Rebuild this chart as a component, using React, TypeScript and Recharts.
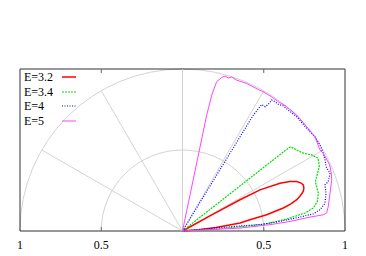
import { Line, LineChart, ReferenceArea, ReferenceLine, XAxis, YAxis } from "recharts";

// polar curves, given as (x, y) on the unit half-disc
const e32 = [
  { x: 0, y: 0 }, { x: 0.18, y: 0.1 }, { x: 0.354, y: 0.193 }, { x: 0.477, y: 0.254 },
  { x: 0.6, y: 0.295 }, { x: 0.66, y: 0.306 }, { x: 0.703, y: 0.305 }, { x: 0.73, y: 0.296 },
  { x: 0.743, y: 0.285 }, { x: 0.747, y: 0.265 }, { x: 0.743, y: 0.244 }, { x: 0.725, y: 0.218 },
  { x: 0.703, y: 0.193 }, { x: 0.665, y: 0.166 }, { x: 0.62, y: 0.142 }, { x: 0.518, y: 0.1 },
  { x: 0.415, y: 0.069 }, { x: 0.354, y: 0.049 }, { x: 0.206, y: 0.022 }, { x: 0.1, y: 0.008 },
  { x: 0, y: 0 },
];

const e34 = [
  { x: 0, y: 0 }, { x: 0.64, y: 0.503 }, { x: 0.665, y: 0.52 }, { x: 0.703, y: 0.5 },
  { x: 0.734, y: 0.484 }, { x: 0.762, y: 0.476 }, { x: 0.795, y: 0.47 }, { x: 0.834, y: 0.449 },
  { x: 0.842, y: 0.398 }, { x: 0.826, y: 0.336 }, { x: 0.818, y: 0.303 }, { x: 0.822, y: 0.285 },
  { x: 0.836, y: 0.234 }, { x: 0.83, y: 0.182 }, { x: 0.805, y: 0.142 }, { x: 0.754, y: 0.111 },
  { x: 0.641, y: 0.074 }, { x: 0.518, y: 0.045 }, { x: 0.41, y: 0.032 }, { x: 0.2, y: 0.01 },
  { x: 0, y: 0 },
];

const e4 = [
  { x: 0, y: 0 }, { x: 0.436, y: 0.716 }, { x: 0.487, y: 0.78 }, { x: 0.508, y: 0.767 },
  { x: 0.528, y: 0.782 }, { x: 0.549, y: 0.808 }, { x: 0.569, y: 0.798 }, { x: 0.59, y: 0.782 },
  { x: 0.62, y: 0.773 }, { x: 0.651, y: 0.746 }, { x: 0.703, y: 0.705 }, { x: 0.764, y: 0.634 },
  { x: 0.815, y: 0.582 }, { x: 0.846, y: 0.531 }, { x: 0.866, y: 0.48 }, { x: 0.877, y: 0.439 },
  { x: 0.883, y: 0.398 }, { x: 0.908, y: 0.357 }, { x: 0.897, y: 0.305 }, { x: 0.877, y: 0.285 },
  { x: 0.883, y: 0.234 }, { x: 0.877, y: 0.172 }, { x: 0.846, y: 0.131 }, { x: 0.805, y: 0.106 },
  { x: 0.723, y: 0.086 }, { x: 0.6, y: 0.059 }, { x: 0.477, y: 0.039 }, { x: 0.311, y: 0.028 },
  { x: 0, y: 0 },
];

const e5 = [
  { x: 0, y: 0 }, { x: 0.149, y: 0.716 }, { x: 0.18, y: 0.839 }, { x: 0.21, y: 0.921 },
  { x: 0.241, y: 0.948 }, { x: 0.262, y: 0.956 }, { x: 0.282, y: 0.945 }, { x: 0.303, y: 0.95 },
  { x: 0.334, y: 0.931 }, { x: 0.395, y: 0.911 }, { x: 0.415, y: 0.9 }, { x: 0.446, y: 0.884 },
  { x: 0.497, y: 0.859 }, { x: 0.549, y: 0.828 }, { x: 0.59, y: 0.798 }, { x: 0.641, y: 0.767 },
  { x: 0.703, y: 0.716 }, { x: 0.764, y: 0.644 }, { x: 0.815, y: 0.582 }, { x: 0.846, y: 0.5 },
  { x: 0.866, y: 0.48 }, { x: 0.905, y: 0.41 }, { x: 0.915, y: 0.36 }, { x: 0.918, y: 0.316 },
  { x: 0.908, y: 0.234 }, { x: 0.897, y: 0.151 }, { x: 0.887, y: 0.111 }, { x: 0.866, y: 0.1 },
  { x: 0.785, y: 0.086 }, { x: 0.662, y: 0.059 }, { x: 0.538, y: 0.039 }, { x: 0.354, y: 0.018 },
  { x: 0, y: 0 },
];

const xTicks = [-1, -0.5, 0.5, 1];
const gridRadii = [0.5, 1];
const gridAngles = [30, 60, 90, 120, 150];

const series = [
  { name: "E=3.2", data: e32, color: "#ff0000", dash: undefined, width: 1.5 },
  { name: "E=3.4", data: e34, color: "#00e000", dash: "2 1", width: 1.2 },
  { name: "E=4", data: e4, color: "#0000ff", dash: "1 1.5", width: 1.2 },
  { name: "E=5", data: e5, color: "#ff44ff", dash: undefined, width: 1 },
];

const gridColor = "#c8c8c8";
const serif = "'Liberation Serif', 'DejaVu Serif', serif";

// half circle drawn inside the reference area box
function HalfCircle(props: any) {
  const { x, y, width, height } = props;
  const r = width / 2;
  return (
    <path
      d={`M${x},${y + height} A${r},${height} 0 0 1 ${x + width},${y + height}`}
      fill="none"
      stroke={gridColor}
      strokeWidth={0.8}
    />
  );
}

function LegendBox() {
  return (
    <div
      style={{
        position: "absolute",
        left: 24,
        top: 70,
        fontFamily: serif,
        fontSize: 12,
        lineHeight: "14.6px",
        color: "#000",
      }}
    >
      {series.map((s) => (
        <div key={s.name} style={{ display: "flex", alignItems: "center" }}>
          <span style={{ width: 37 }}>{s.name}</span>
          <svg width={16} height={6}>
            <line
              x1={1}
              y1={3}
              x2={15}
              y2={3}
              stroke={s.color}
              strokeWidth={s.width}
              strokeDasharray={s.dash}
            />
          </svg>
        </div>
      ))}
    </div>
  );
}

export default function App() {
  return (
    <div style={{ position: "fixed", left: 0, top: 0, width: 366, height: 256, background: "#fff" }}>
      <LineChart width={366} height={256} margin={{ top: 69, right: 21, bottom: 5, left: 20 }}>
        <XAxis
          type="number"
          dataKey="x"
          domain={[-1, 1]}
          ticks={xTicks}
          tickFormatter={(v: number) => String(Math.abs(v))}
          axisLine={false}
          tickLine={false}
          tickMargin={3}
          height={20}
          tick={{ fontSize: 12, fill: "#000", fontFamily: serif }}
        />
        <YAxis type="number" dataKey="y" domain={[0, 1]} hide />
        {gridRadii.map((r) => (
          <ReferenceArea
            key={r}
            x1={-r}
            x2={r}
            y1={0}
            y2={r}
            ifOverflow="visible"
            shape={<HalfCircle />}
          />
        ))}
        {gridAngles.map((a) => (
          <ReferenceLine
            key={a}
            segment={[
              { x: 0, y: 0 },
              { x: Math.cos((a * Math.PI) / 180), y: Math.sin((a * Math.PI) / 180) },
            ]}
            stroke={gridColor}
            strokeWidth={0.8}
            ifOverflow="visible"
          />
        ))}
        {[-0.5, 0.5].map((t) => (
          <ReferenceLine key={"b" + t} segment={[{ x: t, y: 0 }, { x: t, y: 0.025 }]} stroke="#666" />
        ))}
        {[-0.5, 0.5].map((t) => (
          <ReferenceLine key={"t" + t} segment={[{ x: t, y: 1 }, { x: t, y: 0.975 }]} stroke="#666" />
        ))}
        <ReferenceArea x1={-1} x2={1} y1={0} y2={1} fill="none" stroke="#333" strokeWidth={1} ifOverflow="visible" />
        {series.map((s) => (
          <Line
            key={s.name}
            name={s.name}
            data={s.data}
            dataKey="y"
            type="linear"
            stroke={s.color}
            strokeWidth={s.width}
            strokeDasharray={s.dash}
            dot={false}
            isAnimationActive={false}
          />
        ))}
      </LineChart>
      <LegendBox />
    </div>
  );
}
